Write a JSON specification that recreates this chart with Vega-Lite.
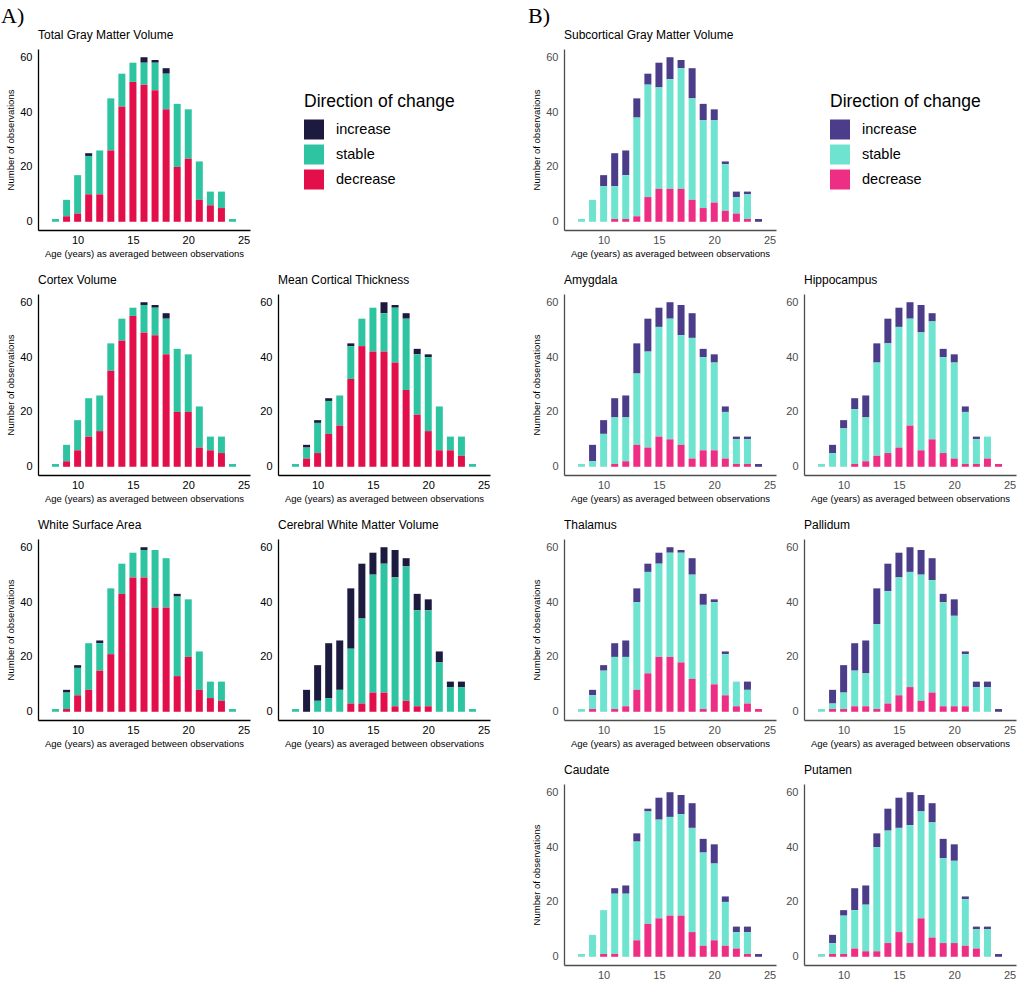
{
"$schema": "https://vega.github.io/schema/vega-lite/v6.json",
"padding": {"left": 1, "top": 5, "right": 3, "bottom": 3},
"columns": 5,
"bounds": "flush",
"spacing": {"row": 64, "column": 28},
"resolve": {"scale": {"color": "independent", "x": "independent", "y": "independent"}, "legend": {"color": "independent"}},
"config": {
 "view": {"stroke": null},
 "font": "Liberation Sans",
 "axis": {"ticks": false, "grid": false, "domainColor": "black", "domainWidth": 1.3, "labelFontSize": 11, "labelColor": "black", "labelFlush": false, "titleFontSize": 9.5, "titleFontWeight": "normal", "titleColor": "black", "labelFont": "Liberation Sans", "titleFont": "Liberation Sans"},
 "axisX": {"labelPadding": 4, "titlePadding": 3},
 "axisY": {"labelPadding": 6, "titlePadding": 4},
 "title": {"anchor": "start", "frame": "group", "fontSize": 12, "fontWeight": "normal", "color": "black", "offset": 7, "font": "Liberation Sans"},
 "legend": {"titleFontSize": 17.5, "titleFontWeight": "normal", "titleColor": "black", "labelFontSize": 14.5, "labelColor": "black", "symbolType": "square", "symbolSize": 400, "symbolStrokeWidth": 0, "symbolOpacity": 1, "rowPadding": 5, "titlePadding": 9, "labelOffset": 12, "titleFont": "Liberation Sans", "labelFont": "Liberation Sans"}
},
"datasets": {"obs": [
{"p":"TGM","age":8,"decrease":0,"stable":1,"increase":0},
{"p":"TGM","age":9,"decrease":2,"stable":6,"increase":0},
{"p":"TGM","age":10,"decrease":3,"stable":14,"increase":0},
{"p":"TGM","age":11,"decrease":10,"stable":14,"increase":1},
{"p":"TGM","age":12,"decrease":10,"stable":16,"increase":0},
{"p":"TGM","age":13,"decrease":26,"stable":19,"increase":0},
{"p":"TGM","age":14,"decrease":42,"stable":12,"increase":0},
{"p":"TGM","age":15,"decrease":51,"stable":7,"increase":0},
{"p":"TGM","age":16,"decrease":50,"stable":8,"increase":2},
{"p":"TGM","age":17,"decrease":48,"stable":10,"increase":1},
{"p":"TGM","age":18,"decrease":41,"stable":13,"increase":2},
{"p":"TGM","age":19,"decrease":20,"stable":23,"increase":0},
{"p":"TGM","age":20,"decrease":23,"stable":18,"increase":0},
{"p":"TGM","age":21,"decrease":8,"stable":14,"increase":0},
{"p":"TGM","age":22,"decrease":6,"stable":5,"increase":0},
{"p":"TGM","age":23,"decrease":5,"stable":6,"increase":0},
{"p":"TGM","age":24,"decrease":0,"stable":1,"increase":0},
{"p":"CV","age":8,"decrease":0,"stable":1,"increase":0},
{"p":"CV","age":9,"decrease":2,"stable":6,"increase":0},
{"p":"CV","age":10,"decrease":6,"stable":11,"increase":0},
{"p":"CV","age":11,"decrease":11,"stable":14,"increase":0},
{"p":"CV","age":12,"decrease":13,"stable":13,"increase":0},
{"p":"CV","age":13,"decrease":35,"stable":10,"increase":0},
{"p":"CV","age":14,"decrease":46,"stable":8,"increase":0},
{"p":"CV","age":15,"decrease":55,"stable":3,"increase":0},
{"p":"CV","age":16,"decrease":49,"stable":10,"increase":1},
{"p":"CV","age":17,"decrease":48,"stable":10,"increase":1},
{"p":"CV","age":18,"decrease":41,"stable":13,"increase":2},
{"p":"CV","age":19,"decrease":20,"stable":23,"increase":0},
{"p":"CV","age":20,"decrease":20,"stable":21,"increase":0},
{"p":"CV","age":21,"decrease":7,"stable":15,"increase":0},
{"p":"CV","age":22,"decrease":6,"stable":5,"increase":0},
{"p":"CV","age":23,"decrease":5,"stable":6,"increase":0},
{"p":"CV","age":24,"decrease":0,"stable":1,"increase":0},
{"p":"MCT","age":8,"decrease":0,"stable":1,"increase":0},
{"p":"MCT","age":9,"decrease":3,"stable":4,"increase":1},
{"p":"MCT","age":10,"decrease":5,"stable":11,"increase":1},
{"p":"MCT","age":11,"decrease":12,"stable":12,"increase":1},
{"p":"MCT","age":12,"decrease":15,"stable":11,"increase":0},
{"p":"MCT","age":13,"decrease":32,"stable":12,"increase":1},
{"p":"MCT","age":14,"decrease":44,"stable":10,"increase":0},
{"p":"MCT","age":15,"decrease":42,"stable":16,"increase":0},
{"p":"MCT","age":16,"decrease":42,"stable":14,"increase":4},
{"p":"MCT","age":17,"decrease":38,"stable":20,"increase":1},
{"p":"MCT","age":18,"decrease":28,"stable":26,"increase":2},
{"p":"MCT","age":19,"decrease":19,"stable":22,"increase":2},
{"p":"MCT","age":20,"decrease":13,"stable":27,"increase":1},
{"p":"MCT","age":21,"decrease":6,"stable":16,"increase":0},
{"p":"MCT","age":22,"decrease":6,"stable":5,"increase":0},
{"p":"MCT","age":23,"decrease":4,"stable":7,"increase":0},
{"p":"MCT","age":24,"decrease":0,"stable":1,"increase":0},
{"p":"WSA","age":8,"decrease":0,"stable":1,"increase":0},
{"p":"WSA","age":9,"decrease":1,"stable":6,"increase":1},
{"p":"WSA","age":10,"decrease":6,"stable":10,"increase":1},
{"p":"WSA","age":11,"decrease":8,"stable":17,"increase":0},
{"p":"WSA","age":12,"decrease":15,"stable":10,"increase":1},
{"p":"WSA","age":13,"decrease":21,"stable":24,"increase":0},
{"p":"WSA","age":14,"decrease":43,"stable":11,"increase":0},
{"p":"WSA","age":15,"decrease":49,"stable":9,"increase":0},
{"p":"WSA","age":16,"decrease":49,"stable":10,"increase":1},
{"p":"WSA","age":17,"decrease":38,"stable":21,"increase":0},
{"p":"WSA","age":18,"decrease":38,"stable":18,"increase":0},
{"p":"WSA","age":19,"decrease":13,"stable":29,"increase":1},
{"p":"WSA","age":20,"decrease":20,"stable":21,"increase":0},
{"p":"WSA","age":21,"decrease":8,"stable":14,"increase":0},
{"p":"WSA","age":22,"decrease":5,"stable":6,"increase":0},
{"p":"WSA","age":23,"decrease":4,"stable":7,"increase":0},
{"p":"WSA","age":24,"decrease":0,"stable":1,"increase":0},
{"p":"CWM","age":8,"decrease":0,"stable":1,"increase":0},
{"p":"CWM","age":9,"decrease":0,"stable":0,"increase":8},
{"p":"CWM","age":10,"decrease":0,"stable":4,"increase":13},
{"p":"CWM","age":11,"decrease":0,"stable":5,"increase":20},
{"p":"CWM","age":12,"decrease":0,"stable":8,"increase":18},
{"p":"CWM","age":13,"decrease":3,"stable":20,"increase":22},
{"p":"CWM","age":14,"decrease":3,"stable":31,"increase":20},
{"p":"CWM","age":15,"decrease":7,"stable":43,"increase":8},
{"p":"CWM","age":16,"decrease":7,"stable":47,"increase":6},
{"p":"CWM","age":17,"decrease":2,"stable":47,"increase":10},
{"p":"CWM","age":18,"decrease":4,"stable":49,"increase":3},
{"p":"CWM","age":19,"decrease":2,"stable":35,"increase":6},
{"p":"CWM","age":20,"decrease":2,"stable":35,"increase":4},
{"p":"CWM","age":21,"decrease":0,"stable":18,"increase":4},
{"p":"CWM","age":22,"decrease":0,"stable":9,"increase":2},
{"p":"CWM","age":23,"decrease":0,"stable":9,"increase":2},
{"p":"CWM","age":24,"decrease":0,"stable":1,"increase":0},
{"p":"SGM","age":8,"decrease":0,"stable":1,"increase":0},
{"p":"SGM","age":9,"decrease":0,"stable":8,"increase":0},
{"p":"SGM","age":10,"decrease":0,"stable":13,"increase":4},
{"p":"SGM","age":11,"decrease":1,"stable":12,"increase":12},
{"p":"SGM","age":12,"decrease":1,"stable":16,"increase":9},
{"p":"SGM","age":13,"decrease":2,"stable":36,"increase":7},
{"p":"SGM","age":14,"decrease":9,"stable":41,"increase":4},
{"p":"SGM","age":15,"decrease":12,"stable":37,"increase":9},
{"p":"SGM","age":16,"decrease":12,"stable":40,"increase":8},
{"p":"SGM","age":17,"decrease":12,"stable":44,"increase":3},
{"p":"SGM","age":18,"decrease":8,"stable":37,"increase":11},
{"p":"SGM","age":19,"decrease":5,"stable":32,"increase":6},
{"p":"SGM","age":20,"decrease":7,"stable":30,"increase":4},
{"p":"SGM","age":21,"decrease":4,"stable":17,"increase":1},
{"p":"SGM","age":22,"decrease":3,"stable":6,"increase":2},
{"p":"SGM","age":23,"decrease":1,"stable":9,"increase":1},
{"p":"SGM","age":24,"decrease":0,"stable":0,"increase":1},
{"p":"AMY","age":8,"decrease":0,"stable":1,"increase":0},
{"p":"AMY","age":9,"decrease":0,"stable":2,"increase":6},
{"p":"AMY","age":10,"decrease":0,"stable":12,"increase":5},
{"p":"AMY","age":11,"decrease":1,"stable":17,"increase":7},
{"p":"AMY","age":12,"decrease":2,"stable":16,"increase":8},
{"p":"AMY","age":13,"decrease":8,"stable":26,"increase":11},
{"p":"AMY","age":14,"decrease":7,"stable":35,"increase":12},
{"p":"AMY","age":15,"decrease":11,"stable":40,"increase":7},
{"p":"AMY","age":16,"decrease":10,"stable":44,"increase":6},
{"p":"AMY","age":17,"decrease":8,"stable":40,"increase":11},
{"p":"AMY","age":18,"decrease":3,"stable":44,"increase":9},
{"p":"AMY","age":19,"decrease":6,"stable":34,"increase":3},
{"p":"AMY","age":20,"decrease":6,"stable":32,"increase":3},
{"p":"AMY","age":21,"decrease":3,"stable":17,"increase":2},
{"p":"AMY","age":22,"decrease":1,"stable":9,"increase":1},
{"p":"AMY","age":23,"decrease":1,"stable":9,"increase":1},
{"p":"AMY","age":24,"decrease":0,"stable":0,"increase":1},
{"p":"HIP","age":8,"decrease":0,"stable":1,"increase":0},
{"p":"HIP","age":9,"decrease":0,"stable":5,"increase":3},
{"p":"HIP","age":10,"decrease":0,"stable":14,"increase":3},
{"p":"HIP","age":11,"decrease":1,"stable":20,"increase":4},
{"p":"HIP","age":12,"decrease":2,"stable":16,"increase":8},
{"p":"HIP","age":13,"decrease":4,"stable":34,"increase":7},
{"p":"HIP","age":14,"decrease":5,"stable":40,"increase":9},
{"p":"HIP","age":15,"decrease":7,"stable":44,"increase":7},
{"p":"HIP","age":16,"decrease":15,"stable":39,"increase":6},
{"p":"HIP","age":17,"decrease":6,"stable":43,"increase":10},
{"p":"HIP","age":18,"decrease":10,"stable":43,"increase":3},
{"p":"HIP","age":19,"decrease":5,"stable":35,"increase":3},
{"p":"HIP","age":20,"decrease":3,"stable":35,"increase":3},
{"p":"HIP","age":21,"decrease":1,"stable":19,"increase":2},
{"p":"HIP","age":22,"decrease":1,"stable":9,"increase":1},
{"p":"HIP","age":23,"decrease":3,"stable":8,"increase":0},
{"p":"HIP","age":24,"decrease":1,"stable":0,"increase":0},
{"p":"THA","age":8,"decrease":0,"stable":1,"increase":0},
{"p":"THA","age":9,"decrease":1,"stable":5,"increase":2},
{"p":"THA","age":10,"decrease":0,"stable":15,"increase":2},
{"p":"THA","age":11,"decrease":1,"stable":19,"increase":5},
{"p":"THA","age":12,"decrease":2,"stable":18,"increase":6},
{"p":"THA","age":13,"decrease":8,"stable":32,"increase":5},
{"p":"THA","age":14,"decrease":14,"stable":37,"increase":3},
{"p":"THA","age":15,"decrease":20,"stable":34,"increase":4},
{"p":"THA","age":16,"decrease":20,"stable":38,"increase":2},
{"p":"THA","age":17,"decrease":18,"stable":40,"increase":1},
{"p":"THA","age":18,"decrease":12,"stable":38,"increase":6},
{"p":"THA","age":19,"decrease":1,"stable":38,"increase":4},
{"p":"THA","age":20,"decrease":10,"stable":30,"increase":1},
{"p":"THA","age":21,"decrease":6,"stable":15,"increase":1},
{"p":"THA","age":22,"decrease":2,"stable":9,"increase":0},
{"p":"THA","age":23,"decrease":3,"stable":5,"increase":3},
{"p":"THA","age":24,"decrease":1,"stable":0,"increase":0},
{"p":"PAL","age":8,"decrease":0,"stable":1,"increase":0},
{"p":"PAL","age":9,"decrease":1,"stable":2,"increase":5},
{"p":"PAL","age":10,"decrease":1,"stable":6,"increase":10},
{"p":"PAL","age":11,"decrease":2,"stable":13,"increase":10},
{"p":"PAL","age":12,"decrease":2,"stable":12,"increase":12},
{"p":"PAL","age":13,"decrease":1,"stable":31,"increase":13},
{"p":"PAL","age":14,"decrease":3,"stable":41,"increase":10},
{"p":"PAL","age":15,"decrease":6,"stable":43,"increase":9},
{"p":"PAL","age":16,"decrease":9,"stable":42,"increase":9},
{"p":"PAL","age":17,"decrease":4,"stable":46,"increase":9},
{"p":"PAL","age":18,"decrease":7,"stable":41,"increase":8},
{"p":"PAL","age":19,"decrease":2,"stable":38,"increase":3},
{"p":"PAL","age":20,"decrease":2,"stable":33,"increase":6},
{"p":"PAL","age":21,"decrease":2,"stable":19,"increase":1},
{"p":"PAL","age":22,"decrease":0,"stable":9,"increase":2},
{"p":"PAL","age":23,"decrease":0,"stable":9,"increase":2},
{"p":"PAL","age":24,"decrease":0,"stable":0,"increase":1},
{"p":"CAU","age":8,"decrease":0,"stable":1,"increase":0},
{"p":"CAU","age":9,"decrease":0,"stable":8,"increase":0},
{"p":"CAU","age":10,"decrease":1,"stable":16,"increase":0},
{"p":"CAU","age":11,"decrease":1,"stable":22,"increase":2},
{"p":"CAU","age":12,"decrease":0,"stable":23,"increase":3},
{"p":"CAU","age":13,"decrease":6,"stable":36,"increase":3},
{"p":"CAU","age":14,"decrease":12,"stable":41,"increase":1},
{"p":"CAU","age":15,"decrease":14,"stable":36,"increase":8},
{"p":"CAU","age":16,"decrease":15,"stable":36,"increase":9},
{"p":"CAU","age":17,"decrease":15,"stable":37,"increase":7},
{"p":"CAU","age":18,"decrease":9,"stable":38,"increase":9},
{"p":"CAU","age":19,"decrease":4,"stable":34,"increase":5},
{"p":"CAU","age":20,"decrease":6,"stable":28,"increase":7},
{"p":"CAU","age":21,"decrease":4,"stable":16,"increase":2},
{"p":"CAU","age":22,"decrease":3,"stable":6,"increase":2},
{"p":"CAU","age":23,"decrease":1,"stable":8,"increase":2},
{"p":"CAU","age":24,"decrease":0,"stable":0,"increase":1},
{"p":"PUT","age":8,"decrease":0,"stable":1,"increase":0},
{"p":"PUT","age":9,"decrease":1,"stable":4,"increase":3},
{"p":"PUT","age":10,"decrease":1,"stable":14,"increase":2},
{"p":"PUT","age":11,"decrease":3,"stable":14,"increase":8},
{"p":"PUT","age":12,"decrease":2,"stable":17,"increase":7},
{"p":"PUT","age":13,"decrease":2,"stable":38,"increase":5},
{"p":"PUT","age":14,"decrease":5,"stable":41,"increase":8},
{"p":"PUT","age":15,"decrease":9,"stable":38,"increase":11},
{"p":"PUT","age":16,"decrease":5,"stable":43,"increase":12},
{"p":"PUT","age":17,"decrease":14,"stable":39,"increase":6},
{"p":"PUT","age":18,"decrease":7,"stable":42,"increase":7},
{"p":"PUT","age":19,"decrease":5,"stable":31,"increase":7},
{"p":"PUT","age":20,"decrease":5,"stable":30,"increase":6},
{"p":"PUT","age":21,"decrease":4,"stable":17,"increase":1},
{"p":"PUT","age":22,"decrease":3,"stable":7,"increase":1},
{"p":"PUT","age":23,"decrease":0,"stable":10,"increase":1},
{"p":"PUT","age":24,"decrease":0,"stable":0,"increase":1}
]},
"concat": [
{"title": "Total Gray Matter Volume", "width": 212, "height": 181, "data": {"name": "obs"},
 "transform": [{"filter": "datum.p === 'TGM'"}, {"fold": ["increase", "stable", "decrease"], "as": ["direction", "n"]}, {"calculate": "indexof(['decrease','stable','increase'], datum.direction)", "as": "ord"}],
 "mark": {"type": "bar", "size": 7},
 "encoding": {
  "x": {"field": "age", "type": "quantitative", "scale": {"domain": [6.87, 25.13], "nice": false, "zero": false}, "axis": {"values": [10, 15, 20, 25], "title": "Age (years) as averaged between observations"}},
  "y": {"field": "n", "type": "quantitative", "stack": "zero", "scale": {"domain": [-3, 63], "nice": false}, "axis": {"values": [0, 20, 40, 60], "title": "Number of observations"}},
  "color": {"field": "direction", "type": "nominal", "scale": {"domain": ["increase", "stable", "decrease"], "range": ["#1d1a40", "#2fc4a1", "#e20f4b"]}, "legend": {"title": "Direction of change", "orient": "none", "legendX": 266, "legendY": 44}},
  "order": {"field": "ord", "type": "quantitative"}}},
{"title": {"text": "A)", "font": "Liberation Serif", "fontSize": 22, "dx": -277, "offset": 21}, "width": 212, "height": 181, "data": {"values": [{}]}, "mark": "text", "encoding": {"text": {"value": ""}}},
{"title": {"text": "B)", "font": "Liberation Serif", "fontSize": 22, "dx": 10, "offset": 21}, "width": 18, "height": 181, "data": {"values": [{}]}, "mark": "text", "encoding": {"text": {"value": ""}}},
{"title": "Subcortical Gray Matter Volume", "width": 212, "height": 181, "data": {"name": "obs"},
 "transform": [{"filter": "datum.p === 'SGM'"}, {"fold": ["increase", "stable", "decrease"], "as": ["direction", "n"]}, {"calculate": "indexof(['decrease','stable','increase'], datum.direction)", "as": "ord"}],
 "mark": {"type": "bar", "size": 7},
 "encoding": {
  "x": {"field": "age", "type": "quantitative", "scale": {"domain": [6.87, 25.13], "nice": false, "zero": false}, "axis": {"values": [10, 15, 20, 25], "title": "Age (years) as averaged between observations", "labelColor": "#4d4d4d", "domainColor": "#4d4d4d"}},
  "y": {"field": "n", "type": "quantitative", "stack": "zero", "scale": {"domain": [-3, 63], "nice": false}, "axis": {"values": [0, 20, 40, 60], "title": "Number of observations", "labelColor": "#4d4d4d", "domainColor": "#4d4d4d"}},
  "color": {"field": "direction", "type": "nominal", "scale": {"domain": ["increase", "stable", "decrease"], "range": ["#4c3d8a", "#6ee3cf", "#ee2d84"]}, "legend": {"title": "Direction of change", "orient": "none", "legendX": 266, "legendY": 44}},
  "order": {"field": "ord", "type": "quantitative"}}},
{"width": 212, "height": 181, "data": {"values": [{}]}, "mark": "text", "encoding": {"text": {"value": ""}}},

{"title": "Cortex Volume", "width": 212, "height": 181, "data": {"name": "obs"},
 "transform": [{"filter": "datum.p === 'CV'"}, {"fold": ["increase", "stable", "decrease"], "as": ["direction", "n"]}, {"calculate": "indexof(['decrease','stable','increase'], datum.direction)", "as": "ord"}],
 "mark": {"type": "bar", "size": 7},
 "encoding": {
  "x": {"field": "age", "type": "quantitative", "scale": {"domain": [6.87, 25.13], "nice": false, "zero": false}, "axis": {"values": [10, 15, 20, 25], "title": "Age (years) as averaged between observations"}},
  "y": {"field": "n", "type": "quantitative", "stack": "zero", "scale": {"domain": [-3, 63], "nice": false}, "axis": {"values": [0, 20, 40, 60], "title": "Number of observations"}},
  "color": {"field": "direction", "type": "nominal", "scale": {"domain": ["increase", "stable", "decrease"], "range": ["#1d1a40", "#2fc4a1", "#e20f4b"]}, "legend": null},
  "order": {"field": "ord", "type": "quantitative"}}},
{"title": "Mean Cortical Thickness", "width": 212, "height": 181, "data": {"name": "obs"},
 "transform": [{"filter": "datum.p === 'MCT'"}, {"fold": ["increase", "stable", "decrease"], "as": ["direction", "n"]}, {"calculate": "indexof(['decrease','stable','increase'], datum.direction)", "as": "ord"}],
 "mark": {"type": "bar", "size": 7},
 "encoding": {
  "x": {"field": "age", "type": "quantitative", "scale": {"domain": [6.87, 25.13], "nice": false, "zero": false}, "axis": {"values": [10, 15, 20, 25], "title": "Age (years) as averaged between observations"}},
  "y": {"field": "n", "type": "quantitative", "stack": "zero", "scale": {"domain": [-3, 63], "nice": false}, "axis": {"values": [0, 20, 40, 60], "title": null}},
  "color": {"field": "direction", "type": "nominal", "scale": {"domain": ["increase", "stable", "decrease"], "range": ["#1d1a40", "#2fc4a1", "#e20f4b"]}, "legend": null},
  "order": {"field": "ord", "type": "quantitative"}}},
{"width": 18, "height": 181, "data": {"values": [{}]}, "mark": "text", "encoding": {"text": {"value": ""}}},
{"title": "Amygdala", "width": 212, "height": 181, "data": {"name": "obs"},
 "transform": [{"filter": "datum.p === 'AMY'"}, {"fold": ["increase", "stable", "decrease"], "as": ["direction", "n"]}, {"calculate": "indexof(['decrease','stable','increase'], datum.direction)", "as": "ord"}],
 "mark": {"type": "bar", "size": 7},
 "encoding": {
  "x": {"field": "age", "type": "quantitative", "scale": {"domain": [6.87, 25.13], "nice": false, "zero": false}, "axis": {"values": [10, 15, 20, 25], "title": "Age (years) as averaged between observations", "labelColor": "#4d4d4d", "domainColor": "#4d4d4d"}},
  "y": {"field": "n", "type": "quantitative", "stack": "zero", "scale": {"domain": [-3, 63], "nice": false}, "axis": {"values": [0, 20, 40, 60], "title": "Number of observations", "labelColor": "#4d4d4d", "domainColor": "#4d4d4d"}},
  "color": {"field": "direction", "type": "nominal", "scale": {"domain": ["increase", "stable", "decrease"], "range": ["#4c3d8a", "#6ee3cf", "#ee2d84"]}, "legend": null},
  "order": {"field": "ord", "type": "quantitative"}}},
{"title": "Hippocampus", "width": 212, "height": 181, "data": {"name": "obs"},
 "transform": [{"filter": "datum.p === 'HIP'"}, {"fold": ["increase", "stable", "decrease"], "as": ["direction", "n"]}, {"calculate": "indexof(['decrease','stable','increase'], datum.direction)", "as": "ord"}],
 "mark": {"type": "bar", "size": 7},
 "encoding": {
  "x": {"field": "age", "type": "quantitative", "scale": {"domain": [6.87, 25.13], "nice": false, "zero": false}, "axis": {"values": [10, 15, 20, 25], "title": "Age (years) as averaged between observations", "labelColor": "#4d4d4d", "domainColor": "#4d4d4d"}},
  "y": {"field": "n", "type": "quantitative", "stack": "zero", "scale": {"domain": [-3, 63], "nice": false}, "axis": {"values": [0, 20, 40, 60], "title": null, "labelColor": "#4d4d4d", "domainColor": "#4d4d4d"}},
  "color": {"field": "direction", "type": "nominal", "scale": {"domain": ["increase", "stable", "decrease"], "range": ["#4c3d8a", "#6ee3cf", "#ee2d84"]}, "legend": null},
  "order": {"field": "ord", "type": "quantitative"}}},

{"title": "White Surface Area", "width": 212, "height": 181, "data": {"name": "obs"},
 "transform": [{"filter": "datum.p === 'WSA'"}, {"fold": ["increase", "stable", "decrease"], "as": ["direction", "n"]}, {"calculate": "indexof(['decrease','stable','increase'], datum.direction)", "as": "ord"}],
 "mark": {"type": "bar", "size": 7},
 "encoding": {
  "x": {"field": "age", "type": "quantitative", "scale": {"domain": [6.87, 25.13], "nice": false, "zero": false}, "axis": {"values": [10, 15, 20, 25], "title": "Age (years) as averaged between observations"}},
  "y": {"field": "n", "type": "quantitative", "stack": "zero", "scale": {"domain": [-3, 63], "nice": false}, "axis": {"values": [0, 20, 40, 60], "title": "Number of observations"}},
  "color": {"field": "direction", "type": "nominal", "scale": {"domain": ["increase", "stable", "decrease"], "range": ["#1d1a40", "#2fc4a1", "#e20f4b"]}, "legend": null},
  "order": {"field": "ord", "type": "quantitative"}}},
{"title": "Cerebral White Matter Volume", "width": 212, "height": 181, "data": {"name": "obs"},
 "transform": [{"filter": "datum.p === 'CWM'"}, {"fold": ["increase", "stable", "decrease"], "as": ["direction", "n"]}, {"calculate": "indexof(['decrease','stable','increase'], datum.direction)", "as": "ord"}],
 "mark": {"type": "bar", "size": 7},
 "encoding": {
  "x": {"field": "age", "type": "quantitative", "scale": {"domain": [6.87, 25.13], "nice": false, "zero": false}, "axis": {"values": [10, 15, 20, 25], "title": "Age (years) as averaged between observations"}},
  "y": {"field": "n", "type": "quantitative", "stack": "zero", "scale": {"domain": [-3, 63], "nice": false}, "axis": {"values": [0, 20, 40, 60], "title": null}},
  "color": {"field": "direction", "type": "nominal", "scale": {"domain": ["increase", "stable", "decrease"], "range": ["#1d1a40", "#2fc4a1", "#e20f4b"]}, "legend": null},
  "order": {"field": "ord", "type": "quantitative"}}},
{"width": 18, "height": 181, "data": {"values": [{}]}, "mark": "text", "encoding": {"text": {"value": ""}}},
{"title": "Thalamus", "width": 212, "height": 181, "data": {"name": "obs"},
 "transform": [{"filter": "datum.p === 'THA'"}, {"fold": ["increase", "stable", "decrease"], "as": ["direction", "n"]}, {"calculate": "indexof(['decrease','stable','increase'], datum.direction)", "as": "ord"}],
 "mark": {"type": "bar", "size": 7},
 "encoding": {
  "x": {"field": "age", "type": "quantitative", "scale": {"domain": [6.87, 25.13], "nice": false, "zero": false}, "axis": {"values": [10, 15, 20, 25], "title": "Age (years) as averaged between observations", "labelColor": "#4d4d4d", "domainColor": "#4d4d4d"}},
  "y": {"field": "n", "type": "quantitative", "stack": "zero", "scale": {"domain": [-3, 63], "nice": false}, "axis": {"values": [0, 20, 40, 60], "title": "Number of observations", "labelColor": "#4d4d4d", "domainColor": "#4d4d4d"}},
  "color": {"field": "direction", "type": "nominal", "scale": {"domain": ["increase", "stable", "decrease"], "range": ["#4c3d8a", "#6ee3cf", "#ee2d84"]}, "legend": null},
  "order": {"field": "ord", "type": "quantitative"}}},
{"title": "Pallidum", "width": 212, "height": 181, "data": {"name": "obs"},
 "transform": [{"filter": "datum.p === 'PAL'"}, {"fold": ["increase", "stable", "decrease"], "as": ["direction", "n"]}, {"calculate": "indexof(['decrease','stable','increase'], datum.direction)", "as": "ord"}],
 "mark": {"type": "bar", "size": 7},
 "encoding": {
  "x": {"field": "age", "type": "quantitative", "scale": {"domain": [6.87, 25.13], "nice": false, "zero": false}, "axis": {"values": [10, 15, 20, 25], "title": "Age (years) as averaged between observations", "labelColor": "#4d4d4d", "domainColor": "#4d4d4d"}},
  "y": {"field": "n", "type": "quantitative", "stack": "zero", "scale": {"domain": [-3, 63], "nice": false}, "axis": {"values": [0, 20, 40, 60], "title": null, "labelColor": "#4d4d4d", "domainColor": "#4d4d4d"}},
  "color": {"field": "direction", "type": "nominal", "scale": {"domain": ["increase", "stable", "decrease"], "range": ["#4c3d8a", "#6ee3cf", "#ee2d84"]}, "legend": null},
  "order": {"field": "ord", "type": "quantitative"}}},

{"width": 212, "height": 181, "data": {"values": [{}]}, "mark": "text", "encoding": {"text": {"value": ""}}},
{"width": 212, "height": 181, "data": {"values": [{}]}, "mark": "text", "encoding": {"text": {"value": ""}}},
{"width": 18, "height": 181, "data": {"values": [{}]}, "mark": "text", "encoding": {"text": {"value": ""}}},
{"title": "Caudate", "width": 212, "height": 181, "data": {"name": "obs"},
 "transform": [{"filter": "datum.p === 'CAU'"}, {"fold": ["increase", "stable", "decrease"], "as": ["direction", "n"]}, {"calculate": "indexof(['decrease','stable','increase'], datum.direction)", "as": "ord"}],
 "mark": {"type": "bar", "size": 7},
 "encoding": {
  "x": {"field": "age", "type": "quantitative", "scale": {"domain": [6.87, 25.13], "nice": false, "zero": false}, "axis": {"values": [10, 15, 20, 25], "title": null, "labelColor": "#4d4d4d", "domainColor": "#4d4d4d"}},
  "y": {"field": "n", "type": "quantitative", "stack": "zero", "scale": {"domain": [-3, 63], "nice": false}, "axis": {"values": [0, 20, 40, 60], "title": "Number of observations", "labelColor": "#4d4d4d", "domainColor": "#4d4d4d"}},
  "color": {"field": "direction", "type": "nominal", "scale": {"domain": ["increase", "stable", "decrease"], "range": ["#4c3d8a", "#6ee3cf", "#ee2d84"]}, "legend": null},
  "order": {"field": "ord", "type": "quantitative"}}},
{"title": "Putamen", "width": 212, "height": 181, "data": {"name": "obs"},
 "transform": [{"filter": "datum.p === 'PUT'"}, {"fold": ["increase", "stable", "decrease"], "as": ["direction", "n"]}, {"calculate": "indexof(['decrease','stable','increase'], datum.direction)", "as": "ord"}],
 "mark": {"type": "bar", "size": 7},
 "encoding": {
  "x": {"field": "age", "type": "quantitative", "scale": {"domain": [6.87, 25.13], "nice": false, "zero": false}, "axis": {"values": [10, 15, 20, 25], "title": null, "labelColor": "#4d4d4d", "domainColor": "#4d4d4d"}},
  "y": {"field": "n", "type": "quantitative", "stack": "zero", "scale": {"domain": [-3, 63], "nice": false}, "axis": {"values": [0, 20, 40, 60], "title": null, "labelColor": "#4d4d4d", "domainColor": "#4d4d4d"}},
  "color": {"field": "direction", "type": "nominal", "scale": {"domain": ["increase", "stable", "decrease"], "range": ["#4c3d8a", "#6ee3cf", "#ee2d84"]}, "legend": null},
  "order": {"field": "ord", "type": "quantitative"}}}
]
}
